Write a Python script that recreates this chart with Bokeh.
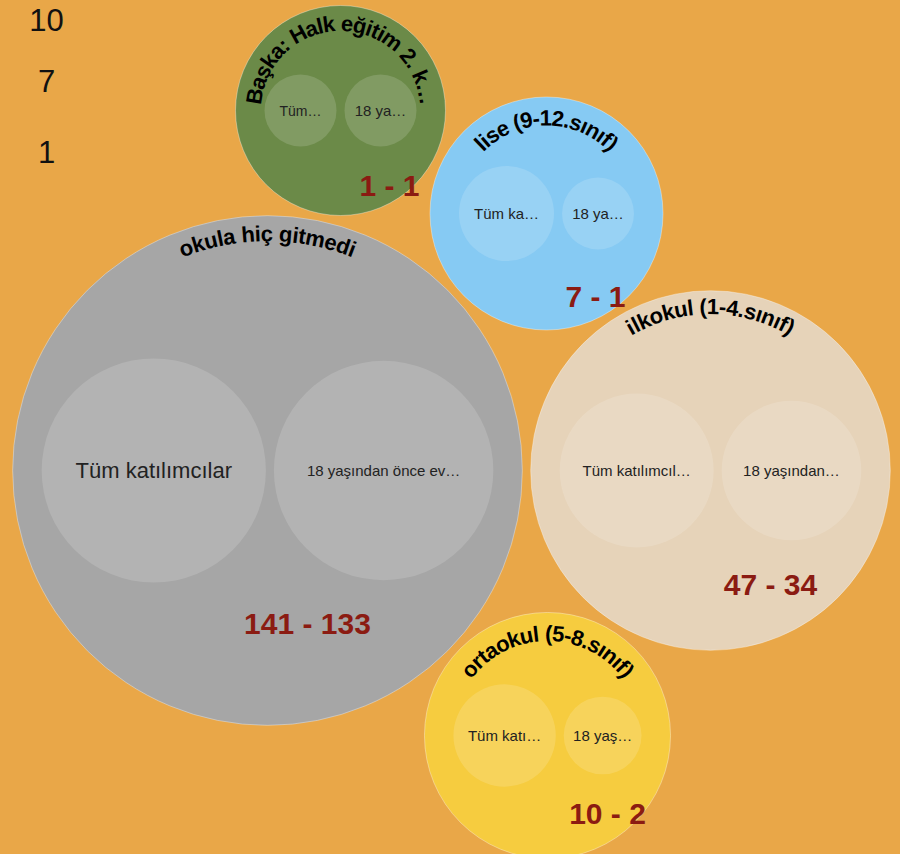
import numpy as np
from bokeh.plotting import figure
from bokeh.models import Range1d
from bokeh.core.properties import value
from bokeh.embed import file_html
from bokeh.resources import INLINE

# ---------------- data ----------------
groups = ["okula hiç gitmedi", "ilkokul (1-4.sınıf)", "lise (9-12.sınıf)",
          "ortaokul (5-8.sınıf)", "Başka: Halk eğitim 2. k…"]
all_participants = [141, 47, 7, 10, 1]
married_before_18 = [133, 34, 1, 2, 1]
left_labels = ["Tüm katılımcılar", "Tüm katılımcıl…", "Tüm ka…", "Tüm katı…", "Tüm…"]
right_labels = ["18 yaşından önce ev…", "18 yaşından…", "18 ya…", "18 yaş…", "18 ya…"]
legend_labels = ["10", "7", "1"]

# ---------------- styles / layout ----------------
BG = "#E9A748"
outer_colors = ["#A6A6A6", "#E6D3B9", "#86CAF3", "#F6CC3F", "#6B8A48"]
group_centers = [(267, 470), (710, 470), (546, 213), (547, 735), (340, 110)]  # screen px
value_offsets = [(40, 153), (60, 114), (49, 83), (60, 78), (49, 75)]
title_inset = [18, 16, 21, 21, 18]
left_font = ["22px", "15px", "15px", "15px", "14px"]
right_font = ["15px", "15px", "15px", "15px", "15px"]
R0, RK, GAP, PAD = 29.0, 7.0, 8.0, 29.0
TITLE_FS = 22
FONT = "Liberation Sans"

W, H = 900, 854
p = figure(width=W, height=H, output_backend="svg", toolbar_location=None,
           x_range=Range1d(0, W), y_range=Range1d(H, 0), min_border=0,
           x_axis_location=None, y_axis_location=None, outline_line_color=None,
           background_fill_color=BG, border_fill_color=BG)
p.grid.visible = False

r_left = R0 + RK * np.sqrt(np.array(all_participants, float))
r_right = R0 + RK * np.sqrt(np.array(married_before_18, float))
width = 2 * r_left + GAP + 2 * r_right
r_outer = width / 2 + PAD

cx = np.array([c[0] for c in group_centers], float)
cy = np.array([c[1] for c in group_centers], float)
lx = cx - width / 2 + r_left
rx = cx - width / 2 + 2 * r_left + GAP + r_right

p.circle(x=cx, y=cy, radius=r_outer, fill_color=outer_colors,
         line_color="white", line_alpha=0.35, line_width=1)
p.circle(x=np.concatenate([lx, rx]), y=np.concatenate([cy, cy]),
         radius=np.concatenate([r_left, r_right]), fill_color="white",
         fill_alpha=0.15, line_color=None)

p.text(x=lx, y=cy, text=left_labels, text_font=value(FONT),
       text_font_size=left_font, text_align="center", text_baseline="middle",
       text_color="#222222")
p.text(x=rx, y=cy, text=right_labels, text_font=value(FONT),
       text_font_size=right_font, text_align="center", text_baseline="middle",
       text_color="#222222")

val_text = [f"{a} - {b}" for a, b in zip(all_participants, married_before_18)]
p.text(x=cx + np.array([o[0] for o in value_offsets]),
       y=cy + np.array([o[1] for o in value_offsets]),
       text=val_text, text_font=value(FONT), text_font_size="30px",
       text_font_style="bold", text_align="center", text_baseline="middle",
       text_color="#8B1B12")

# curved titles (Arial/Liberation Sans Bold advance widths /1000 em)
BW = {" ": 278, "(": 333, ")": 333, "-": 333, ".": 278, ":": 333, "…": 1000,
      "a": 556, "b": 611, "c": 556, "d": 611, "e": 556, "f": 333, "g": 611, "h": 611,
      "i": 278, "k": 556, "l": 278, "m": 889, "n": 611, "o": 611, "r": 389, "s": 556,
      "t": 333, "u": 611, "y": 556, "B": 722, "H": 722, "ş": 556, "ç": 556, "ğ": 611,
      "ı": 278}
xs, ys, chs, angs = [], [], [], []
for g, x0, y0, ro, ins in zip(groups, cx, cy, r_outer, title_inset):
    R = ro - ins
    ws = [BW.get(ch, 556) * TITLE_FS / 1000 for ch in g]
    L = sum(ws)
    phi0 = np.pi / 2 + L / (2 * R)
    s = 0.0
    for ch, w in zip(g, ws):
        phi = phi0 - (s + w / 2) / R
        s += w
        if ch == " ":
            continue
        xs.append(x0 + R * np.cos(phi))
        ys.append(y0 - R * np.sin(phi))
        chs.append(ch)
        angs.append(phi - np.pi / 2)
p.text(x=xs, y=ys, text=chs, angle=angs, text_font=value(FONT),
       text_font_size=f"{TITLE_FS}px", text_font_style="bold",
       text_align="center", text_baseline="middle", text_color="black")

# top-left labels
p.text(x=[46] * 3, y=[19, 80, 151], text=legend_labels, text_font=value(FONT),
       text_font_size="31px", text_align="center", text_baseline="middle",
       text_color="#111111")

html = file_html(p, INLINE)
html = html.replace("<head>", "<head><style>html,body{background:%s;}</style>" % BG, 1)
open("out.html", "w").write(html)
